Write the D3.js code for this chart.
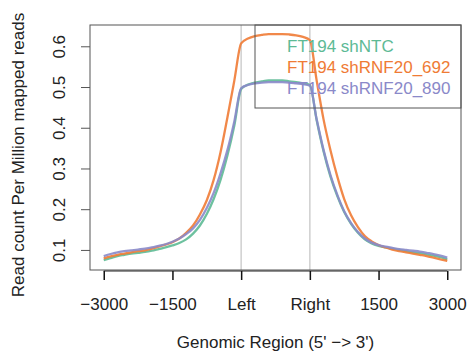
<!DOCTYPE html>
<html>
<head>
<meta charset="utf-8">
<script src="https://cdn.jsdelivr.net/npm/d3@7"></script>
<style>
  body { margin: 0; background: #fff; }
  text { font-family: "Liberation Sans", Arial, sans-serif; font-size: 17px; }
</style>
</head>
<body>
<script>
// bin positions along the meta-gene (0 = -3000, 2 = Left, 3 = Right, 5 = +3000)
const positions = [0,0.1,0.2,0.3,0.4,0.5,0.6,0.7,0.8,0.9,1,1.1,1.2,1.3,1.4,1.5,1.6,1.7,1.8,1.9,2,
  2.1,2.2,2.3,2.4,2.5,2.6,2.7,2.8,2.9,3,3.1,3.2,3.3,3.4,3.5,3.6,3.7,3.8,3.9,4,
  4.1,4.2,4.3,4.4,4.5,4.6,4.7,4.8,4.9,5];

const shNTC = [0.075,0.080,0.085,0.088,0.091,0.093,0.095,0.098,0.102,0.106,0.111,
  0.117,0.126,0.140,0.160,0.188,0.225,0.272,0.332,0.405,0.495,
  0.506,0.511,0.514,0.516,0.516,0.516,0.514,0.512,0.509,0.505,
  0.418,0.342,0.280,0.232,0.193,0.164,0.142,0.126,0.116,0.110,
  0.106,0.103,0.100,0.097,0.094,0.092,0.089,0.086,0.082,0.077];

const sh692 = [0.079,0.084,0.088,0.091,0.094,0.097,0.099,0.103,0.108,0.113,0.119,
  0.128,0.142,0.160,0.187,0.222,0.272,0.340,0.425,0.515,0.607,
  0.619,0.625,0.628,0.630,0.630,0.630,0.629,0.627,0.623,0.615,
  0.515,0.420,0.345,0.280,0.225,0.185,0.156,0.134,0.121,0.112,
  0.106,0.101,0.097,0.094,0.091,0.088,0.085,0.081,0.077,0.073];

const sh890 = [0.085,0.090,0.094,0.097,0.099,0.101,0.103,0.106,0.110,0.114,0.120,
  0.128,0.139,0.153,0.174,0.203,0.240,0.288,0.345,0.415,0.497,
  0.505,0.509,0.511,0.512,0.512,0.512,0.511,0.509,0.507,0.503,
  0.420,0.345,0.284,0.235,0.195,0.166,0.144,0.128,0.118,0.112,
  0.108,0.105,0.102,0.100,0.098,0.096,0.093,0.090,0.086,0.081];

const seriesNames = ["FT194 shNTC", "FT194 shRNF20_692", "FT194 shRNF20_890"];
const seriesColors = ["#5dba95", "#ef7b35", "#8a89c9"];
const xTickPos = [0, 1, 2, 3, 4, 5];
const xTickLabels = ["\u22123000", "\u22121500", "Left", "Right", "1500", "3000"];
const yTicks = [0.1, 0.2, 0.3, 0.4, 0.5, 0.6];

const W = 468, H = 353;
const plot = {left: 90, right: 461, top: 25, bottom: 270};

const svg = d3.select("body").append("svg")
    .attr("width", W)
    .attr("height", H);

// R style 4% padding on both axes
const xs = d3.scaleLinear()
    .domain([-0.2, 5.2])
    .range([plot.left, plot.right]);

const allVals = shNTC.concat(sh692, sh890);
const [ymin, ymax] = d3.extent(allVals);
const pad = (ymax - ymin) * 0.04;
const ys = d3.scaleLinear()
    .domain([ymin - pad, ymax + pad])
    .range([plot.bottom, plot.top]);

// Left / Right guide lines
svg.selectAll(".guide")
    .data([2, 3])
    .enter().append("line")
    .attr("x1", d => xs(d)).attr("x2", d => xs(d))
    .attr("y1", plot.top).attr("y2", plot.bottom)
    .attr("stroke", "#cfcfcf")
    .attr("stroke-width", 1.5);

const line = d3.line()
    .x((d, i) => xs(positions[i]))
    .y(d => ys(d))
    .curve(d3.curveMonotoneX);

[shNTC, sh692, sh890].forEach((vals, k) => {
  svg.append("path")
      .datum(vals)
      .attr("d", line)
      .attr("fill", "none")
      .attr("stroke", seriesColors[k])
      .attr("stroke-width", 2.3)
      .attr("stroke-opacity", 0.9);
});

// box
svg.append("rect")
    .attr("x", plot.left).attr("y", plot.top)
    .attr("width", plot.right - plot.left)
    .attr("height", plot.bottom - plot.top)
    .attr("fill", "none")
    .attr("stroke", "#555")
    .attr("stroke-width", 1);

// x axis
const xAxis = d3.axisBottom(xs)
    .tickValues(xTickPos)
    .tickFormat((d, i) => xTickLabels[i])
    .tickSize(9)
    .tickPadding(18);
const gx = svg.append("g")
    .attr("transform", `translate(0,${plot.bottom + 1})`)
    .call(xAxis);
gx.select(".domain")
    .attr("d", `M${xs(0)},0H${xs(5)}`)
    .attr("stroke", "#222");
gx.selectAll(".tick line").attr("stroke", "#111").attr("stroke-width", 1.5);
gx.selectAll(".tick text")
    .attr("fill", "#222")
    .style("font-size", "17px")
    .style("font-family", "'Liberation Sans', Arial, sans-serif");

// y axis
const yAxis = d3.axisLeft(ys)
    .tickValues(yTicks)
    .tickFormat(d3.format(".1f"))
    .tickSize(9);
const gy = svg.append("g")
    .attr("transform", `translate(${plot.left},0)`)
    .call(yAxis);
gy.select(".domain").remove();
gy.selectAll(".tick line").attr("stroke", "#555");
gy.selectAll(".tick text")
    .attr("x", null).attr("dy", null)
    .attr("text-anchor", "middle")
    .attr("transform", "translate(-25,0) rotate(-90)")
    .attr("fill", "#222")
    .style("font-size", "17px")
    .style("font-family", "'Liberation Sans', Arial, sans-serif");

// axis titles
svg.append("text")
    .attr("x", (plot.left + plot.right) / 2)
    .attr("y", 348)
    .attr("text-anchor", "middle")
    .attr("fill", "#222")
    .text("Genomic Region (5' \u2212> 3')");

svg.append("text")
    .attr("transform", "translate(24,155) rotate(-90)")
    .attr("text-anchor", "middle")
    .attr("fill", "#222")
    .text("Read count Per Million mapped reads");

// legend
svg.append("rect")
    .attr("x", 255).attr("y", plot.top)
    .attr("width", plot.right - 255)
    .attr("height", 83)
    .attr("fill", "none")
    .attr("stroke", "#555")
    .attr("stroke-width", 1);

svg.selectAll(".legend")
    .data(seriesNames)
    .enter().append("text")
    .attr("class", "legend")
    .attr("x", 287)
    .attr("y", (d, i) => 51.5 + i * 21)
    .attr("fill", (d, i) => seriesColors[i])
    .text(d => d);
</script>
</body>
</html>
